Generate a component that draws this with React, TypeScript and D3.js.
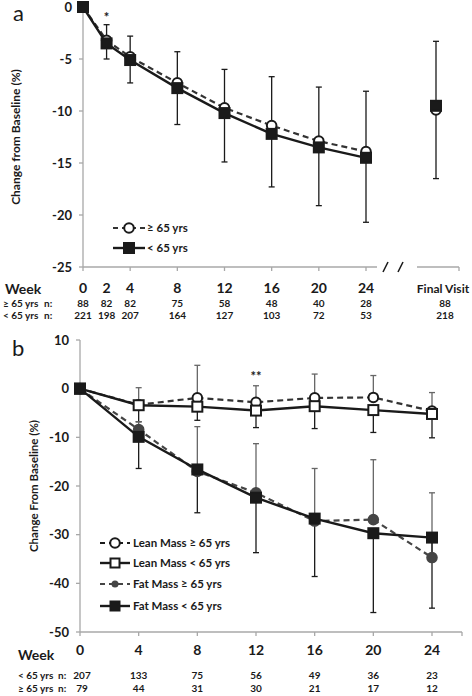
import React from "react";
import * as d3 from "d3";

// ---------- Panel a data ----------
const weeksA = [0, 2, 4, 8, 12, 16, 20, 24];
const oldA = [0, -3.2, -4.8, -7.3, -9.7, -11.4, -12.9, -13.9];
const youngA = [0, -3.5, -5.1, -7.8, -10.2, -12.2, -13.5, -14.5];
const errTopA = [0, -1.7, -2.8, -4.3, -6.0, -6.7, -7.7, -8.1];
const errBotA = [0, -5.0, -7.3, -11.3, -14.9, -17.3, -19.1, -20.7];
const finalOldA = -9.9;
const finalYoungA = -9.5;
const finalErrTopA = -3.3;
const finalErrBotA = -16.5;
const yTicksA = [0, -5, -10, -15, -20, -25];
const axisTickWeeksA = [0, 4, 8, 12, 16, 20, 24];
const nOldA = ["88", "82", "82", "75", "58", "48", "40", "28"];
const nYoungA = ["221", "198", "207", "164", "127", "103", "72", "53"];
const nFinalOldA = "88";
const nFinalYoungA = "218";

// ---------- Panel b data ----------
const weeksB = [0, 4, 8, 12, 16, 20, 24];
const leanOld = [0, -3.3, -1.9, -2.8, -1.9, -1.8, -4.6];
const leanYoung = [0, -3.4, -3.7, -4.5, -3.6, -4.4, -5.2];
const leanErrTop = [0, 0.2, 4.8, 0.6, 3.0, 2.7, -0.8];
const leanErrBot = [0, -6.8, -6.5, -8.0, -8.2, -9.0, -10.1];
const fatOld = [0, -8.4, -17.0, -21.4, -27.2, -26.9, -34.7];
const fatYoung = [0, -9.9, -16.6, -22.4, -26.7, -29.7, -30.6];
const fatErrTop = [0, -6.8, -7.8, -11.3, -16.4, -14.6, -21.4];
const fatErrBot = [0, -16.4, -25.5, -33.7, -38.6, -46.0, -45.1];
const yTicksB = [10, 0, -10, -20, -30, -40, -50];
const nYoungB = ["207", "133", "75", "56", "49", "36", "23"];
const nOldB = ["79", "44", "31", "30", "21", "17", "12"];

const FONT = "Lato, 'Open Sans', sans-serif";
const AXIS = "#a8a8a8";
const DARK = "#1a1a1a";
const GREY = "#454545";

function Square({ x, y, fill, size = 10 }: { x: number; y: number; fill: string; size?: number }) {
  return (
    <rect x={x - size / 2} y={y - size / 2} width={size} height={size} fill={fill} stroke={DARK} strokeWidth={2} />
  );
}

function Circle({ x, y, fill, stroke = DARK }: { x: number; y: number; fill: string; stroke?: string }) {
  return <circle cx={x} cy={y} r={4.8} fill={fill} stroke={stroke} strokeWidth={2} />;
}

function ErrBar({ x, y1, y2, color }: { x: number; y1: number; y2: number; color: string }) {
  return (
    <g stroke={color} strokeWidth={1.3}>
      <line x1={x} x2={x} y1={y1} y2={y2} />
      <line x1={x - 3} x2={x + 3} y1={y2} y2={y2} />
    </g>
  );
}

function PanelA() {
  const x = d3.scaleLinear().domain([0, 24]).range([83, 366]);
  const y = d3.scaleLinear().domain([0, -25]).range([7, 267]);
  const finalX = 436;
  const line = d3
    .line<number>()
    .x((_, i) => x(weeksA[i]))
    .y((d) => y(d));
  return (
    <g>
      <text x={13} y={21} fontFamily={FONT} fontSize={22} fill={DARK}>a</text>
      <text
        transform={`translate(20,${(y(0) + y(-25)) / 2}) rotate(-90)`}
        textAnchor="middle"
        fontFamily={FONT}
        fontWeight="bold"
        fontSize={12}
        fill={DARK}
      >
        Change from Baseline (%)
      </text>
      {/* y axis */}
      <line x1={x(0)} x2={x(0)} y1={y(0)} y2={y(-25)} stroke={AXIS} strokeWidth={1.3} />
      {yTicksA.map((t) => (
        <g key={t}>
          <line x1={x(0) - 4} x2={x(0)} y1={y(t)} y2={y(t)} stroke={AXIS} strokeWidth={1.3} />
          <text x={72} y={y(t)} dy="0.35em" textAnchor="end" fontFamily={FONT} fontWeight="bold" fontSize={13} fill={DARK}>
            {t}
          </text>
        </g>
      ))}
      {/* x axis with break */}
      <line x1={x(0)} x2={377} y1={y(-25)} y2={y(-25)} stroke={AXIS} strokeWidth={1.3} />
      <line x1={417} x2={459} y1={y(-25)} y2={y(-25)} stroke={AXIS} strokeWidth={1.3} />
      <line x1={459} x2={459} y1={y(-25)} y2={y(-25) + 4} stroke={AXIS} strokeWidth={1.3} />
      {axisTickWeeksA.map((w) => (
        <line key={w} x1={x(w)} x2={x(w)} y1={y(-25)} y2={y(-25) + 4} stroke={AXIS} strokeWidth={1.3} />
      ))}
      <line x1={383} x2={388} y1={y(-25) + 5} y2={y(-25) - 5} stroke={DARK} strokeWidth={1.5} />
      <line x1={398} x2={403} y1={y(-25) + 5} y2={y(-25) - 5} stroke={DARK} strokeWidth={1.5} />
      {/* error bars */}
      {weeksA.map((w, i) =>
        i === 0 ? null : (
          <g key={w}>
            <ErrBar x={x(w)} y1={y(oldA[i])} y2={y(errTopA[i])} color={DARK} />
            <ErrBar x={x(w)} y1={y(youngA[i])} y2={y(errBotA[i])} color={DARK} />
          </g>
        )
      )}
      <ErrBar x={finalX} y1={y(finalOldA)} y2={y(finalErrTopA)} color={DARK} />
      <ErrBar x={finalX} y1={y(finalYoungA)} y2={y(finalErrBotA)} color={DARK} />
      {/* lines */}
      <path d={line(oldA) || ""} fill="none" stroke={"#333"} strokeWidth={2.2} strokeDasharray="6,4" />
      <path d={line(youngA) || ""} fill="none" stroke={DARK} strokeWidth={2.4} />
      {oldA.map((v, i) => (
        <Circle key={i} x={x(weeksA[i])} y={y(v)} fill="#fff" />
      ))}
      {youngA.map((v, i) => (
        <Square key={i} x={x(weeksA[i])} y={y(v)} fill={DARK} />
      ))}
      <Circle x={finalX} y={y(finalOldA)} fill="#fff" />
      <Square x={finalX} y={y(finalYoungA)} fill={DARK} />
      <text x={x(2)} y={22} textAnchor="middle" fontFamily={FONT} fontWeight="bold" fontSize={13} fill={DARK}>*</text>
      {/* legend */}
      <g>
        <line x1={113} x2={145} y1={228} y2={228} stroke="#333" strokeWidth={2.2} strokeDasharray="5,4" />
        <Circle x={129} y={228} fill="#fff" />
        <text x={147} y={228} dy="0.35em" fontFamily={FONT} fontWeight="bold" fontSize={11.5} fill={DARK}>≥ 65 yrs</text>
        <line x1={113} x2={145} y1={248} y2={248} stroke={DARK} strokeWidth={2.4} />
        <Square x={129} y={248} fill={DARK} />
        <text x={147} y={248} dy="0.35em" fontFamily={FONT} fontWeight="bold" fontSize={11.5} fill={DARK}>&lt; 65 yrs</text>
      </g>
      {/* table */}
      <text x={5} y={294} fontFamily={FONT} fontWeight="bold" fontSize={14} fill={DARK}>Week</text>
      {weeksA.map((w) => (
        <text key={w} x={x(w)} y={293} textAnchor="middle" fontFamily={FONT} fontWeight="bold" fontSize={14} fill={DARK}>
          {w}
        </text>
      ))}
      <text x={443} y={293} textAnchor="middle" fontFamily={FONT} fontWeight="bold" fontSize={12} fill={DARK}>Final Visit</text>
      <text x={3} y={307} fontFamily={FONT} fontWeight="bold" fontSize={10} fill={DARK}>≥ 65 yrs</text>
      <text x={44} y={307} fontFamily={FONT} fontWeight="bold" fontSize={10} fill={DARK}>n:</text>
      <text x={3} y={319} fontFamily={FONT} fontWeight="bold" fontSize={10} fill={DARK}>&lt; 65 yrs</text>
      <text x={44} y={319} fontFamily={FONT} fontWeight="bold" fontSize={10} fill={DARK}>n:</text>
      {weeksA.map((w, i) => (
        <g key={w}>
          <text x={x(w)} y={307} textAnchor="middle" fontFamily={FONT} fontWeight="bold" fontSize={10} fill={DARK}>{nOldA[i]}</text>
          <text x={x(w)} y={319} textAnchor="middle" fontFamily={FONT} fontWeight="bold" fontSize={10} fill={DARK}>{nYoungA[i]}</text>
        </g>
      ))}
      <text x={445} y={307} textAnchor="middle" fontFamily={FONT} fontWeight="bold" fontSize={10} fill={DARK}>{nFinalOldA}</text>
      <text x={445} y={319} textAnchor="middle" fontFamily={FONT} fontWeight="bold" fontSize={10} fill={DARK}>{nFinalYoungA}</text>
    </g>
  );
}

function PanelB() {
  const x = d3.scaleLinear().domain([0, 24]).range([80, 432]);
  const y = d3.scaleLinear().domain([10, -50]).range([340, 632]);
  const line = d3
    .line<number>()
    .x((_, i) => x(weeksB[i]))
    .y((d) => y(d));
  const legend = [
    { label: "Lean Mass ≥ 65 yrs", dashed: true, kind: "openCircle", yy: 543 },
    { label: "Lean Mass < 65 yrs", dashed: false, kind: "openSquare", yy: 563 },
    { label: "Fat Mass ≥ 65 yrs", dashed: true, kind: "fillCircle", yy: 584 },
    { label: "Fat Mass < 65 yrs", dashed: false, kind: "fillSquare", yy: 606 },
  ];
  return (
    <g>
      <text x={12} y={356} fontFamily={FONT} fontSize={22} fill={DARK}>b</text>
      <text
        transform={`translate(38,${(y(10) + y(-50)) / 2}) rotate(-90)`}
        textAnchor="middle"
        fontFamily={FONT}
        fontWeight="bold"
        fontSize={11.5}
        fill={DARK}
      >
        Change From Baseline (%)
      </text>
      <line x1={x(0)} x2={x(0)} y1={y(10)} y2={y(-50)} stroke={AXIS} strokeWidth={1.3} />
      {yTicksB.map((t) => (
        <g key={t}>
          <line x1={x(0) - 4} x2={x(0)} y1={y(t)} y2={y(t)} stroke={AXIS} strokeWidth={1.3} />
          <text x={69} y={y(t)} dy="0.35em" textAnchor="end" fontFamily={FONT} fontWeight="bold" fontSize={13} fill={DARK}>
            {t}
          </text>
        </g>
      ))}
      <line x1={x(0)} x2={462} y1={y(-50)} y2={y(-50)} stroke={AXIS} strokeWidth={1.3} />
      {weeksB.map((w) => (
        <line key={w} x1={x(w)} x2={x(w)} y1={y(-50)} y2={y(-50) + 4} stroke={AXIS} strokeWidth={1.3} />
      ))}
      <line x1={462} x2={462} y1={y(-50)} y2={y(-50) + 4} stroke={AXIS} strokeWidth={1.3} />
      {/* error bars */}
      {weeksB.map((w, i) =>
        i === 0 ? null : (
          <g key={w}>
            <ErrBar x={x(w)} y1={y(leanOld[i])} y2={y(leanErrTop[i])} color="#666" />
            <ErrBar x={x(w)} y1={y(leanYoung[i])} y2={y(leanErrBot[i])} color={DARK} />
            <ErrBar x={x(w)} y1={y(fatOld[i])} y2={y(fatErrTop[i])} color="#666" />
            <ErrBar x={x(w)} y1={y(fatYoung[i])} y2={y(fatErrBot[i])} color={DARK} />
          </g>
        )
      )}
      {/* lines */}
      <path d={line(fatOld) || ""} fill="none" stroke={GREY} strokeWidth={2.2} strokeDasharray="6,4" />
      <path d={line(fatYoung) || ""} fill="none" stroke={DARK} strokeWidth={2.4} />
      <path d={line(leanOld) || ""} fill="none" stroke="#333" strokeWidth={2.2} strokeDasharray="6,4" />
      <path d={line(leanYoung) || ""} fill="none" stroke={DARK} strokeWidth={2.4} />
      {fatOld.map((v, i) => (
        <Circle key={"fo" + i} x={x(weeksB[i])} y={y(v)} fill={GREY} stroke={GREY} />
      ))}
      {fatYoung.map((v, i) => (
        <Square key={"fy" + i} x={x(weeksB[i])} y={y(v)} fill={DARK} />
      ))}
      {leanOld.map((v, i) => (i === 0 ? null : <Circle key={"lo" + i} x={x(weeksB[i])} y={y(v)} fill="#fff" />))}
      {leanYoung.map((v, i) => (i === 0 ? null : <Square key={"ly" + i} x={x(weeksB[i])} y={y(v)} fill="#fff" />))}
      <Square x={x(0)} y={y(0)} fill={DARK} />
      <text x={x(12)} y={381} textAnchor="middle" fontFamily={FONT} fontWeight="bold" fontSize={13} fill={DARK}>**</text>
      {/* legend */}
      {legend.map((l) => (
        <g key={l.label}>
          <line
            x1={100}
            x2={130}
            y1={l.yy}
            y2={l.yy}
            stroke={l.kind === "fillCircle" ? GREY : DARK}
            strokeWidth={l.dashed ? 2.2 : 2.4}
            strokeDasharray={l.dashed ? "5,4" : undefined}
          />
          {l.kind === "openCircle" && <Circle x={115} y={l.yy} fill="#fff" />}
          {l.kind === "openSquare" && <Square x={115} y={l.yy} fill="#fff" size={9} />}
          {l.kind === "fillCircle" && <circle cx={115} cy={l.yy} r={3.5} fill={GREY} />}
          {l.kind === "fillSquare" && <Square x={115} y={l.yy} fill={DARK} size={9} />}
          <text x={133} y={l.yy} dy="0.35em" fontFamily={FONT} fontWeight="bold" fontSize={11.5} fill={DARK}>
            {l.label}
          </text>
        </g>
      ))}
      {/* table */}
      <text x={18} y={660} fontFamily={FONT} fontWeight="bold" fontSize={14} fill={DARK}>Week</text>
      {weeksB.map((w) => (
        <text key={w} x={x(w)} y={655} textAnchor="middle" fontFamily={FONT} fontWeight="bold" fontSize={14} fill={DARK}>
          {w}
        </text>
      ))}
      <text x={18} y={679} fontFamily={FONT} fontWeight="bold" fontSize={10} fill={DARK}>&lt; 65 yrs</text>
      <text x={58} y={679} fontFamily={FONT} fontWeight="bold" fontSize={10} fill={DARK}>n:</text>
      <text x={18} y={692} fontFamily={FONT} fontWeight="bold" fontSize={10} fill={DARK}>≥ 65 yrs</text>
      <text x={58} y={692} fontFamily={FONT} fontWeight="bold" fontSize={10} fill={DARK}>n:</text>
      {weeksB.map((w, i) => (
        <g key={w}>
          <text x={i === 0 ? x(w) + 2 : x(w)} y={679} textAnchor="middle" fontFamily={FONT} fontWeight="bold" fontSize={10} fill={DARK}>{nYoungB[i]}</text>
          <text x={i === 0 ? x(w) + 2 : x(w)} y={692} textAnchor="middle" fontFamily={FONT} fontWeight="bold" fontSize={10} fill={DARK}>{nOldB[i]}</text>
        </g>
      ))}
    </g>
  );
}

export default function App() {
  return (
    <svg width={472} height={696} style={{ position: "absolute", left: 0, top: 0, background: "#fff" }}>
      <rect width={472} height={696} fill="#fff" />
      <PanelA />
      <PanelB />
    </svg>
  );
}
